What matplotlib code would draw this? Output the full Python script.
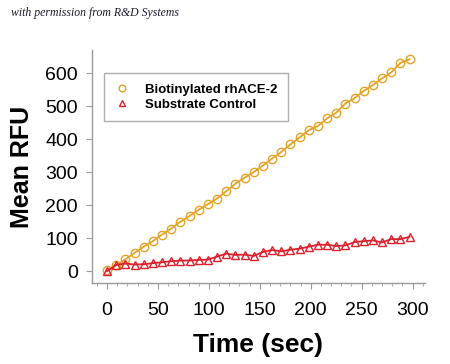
import matplotlib.pyplot as plt
from matplotlib.ticker import MultipleLocator

# Time points (sec) and mean RFU
time = [0, 9, 18, 27, 36, 45, 54, 63, 72, 81, 90, 99, 108, 117, 126, 135, 144,
        153, 162, 171, 180, 189, 198, 207, 216, 225, 234, 243, 252, 261, 270,
        279, 288, 297]
biotin_rfu = [3, 18, 36, 55, 74, 91, 111, 129, 150, 167, 186, 203, 220, 242,
              265, 283, 300, 320, 341, 361, 384, 405, 427, 440, 463, 480, 508,
              524, 546, 564, 584, 602, 631, 642]
control_rfu = [0, 19, 23, 20, 21, 24, 27, 30, 32, 32, 34, 35, 44, 53, 49, 50,
               46, 58, 64, 60, 65, 68, 74, 80, 80, 76, 78, 88, 91, 93, 87, 97,
               97, 104]

x_ticks = [0, 50, 100, 150, 200, 250, 300]
y_ticks = [0, 100, 200, 300, 400, 500, 600]

orange = '#E3A326'
red = '#DC1F2A'
grey = '#9A9A9A'

plt.rcParams['font.family'] = ['Liberation Sans', 'DejaVu Sans']

fig = plt.figure(figsize=(4.5, 3.64), dpi=100)
ax = fig.add_axes([0.204, 0.2225, 0.74, 0.64])

ax.plot(time, biotin_rfu, color=orange, lw=1.3, marker='o', ms=6,
        mfc='none', mec=orange, mew=1.0, label='Biotinylated rhACE-2')
ax.plot(time, control_rfu, color=red, lw=1.3, marker='^', ms=6,
        mfc='none', mec=red, mew=1.0, label='Substrate Control')

ax.set_xlim(-15, 312)
ax.set_ylim(-36, 670)
ax.set_xticks(x_ticks)
ax.set_yticks(y_ticks)
ax.xaxis.set_minor_locator(MultipleLocator(10))

for s in ['top', 'right']:
    ax.spines[s].set_visible(False)
for s in ['left', 'bottom']:
    ax.spines[s].set_color(grey)
    ax.spines[s].set_linewidth(1.0)

ax.tick_params(axis='both', which='major', direction='out', length=4,
               color=grey, labelsize=14)
ax.tick_params(axis='x', which='major', pad=10)
ax.tick_params(axis='y', which='major', pad=6)
ax.tick_params(axis='x', which='minor', direction='out', length=2.5, color=grey)

ax.set_xlabel('Time (sec)', fontsize=19, fontweight='bold', labelpad=10)
ax.set_ylabel('Mean RFU', fontsize=18, fontweight='bold', labelpad=8)

leg = ax.legend(loc='upper left', bbox_to_anchor=(0.018, 0.93), frameon=True,
                fancybox=False, handlelength=1.0, markerscale=0.8,
                prop={'weight': 'bold', 'size': 9.5}, borderpad=0.8,
                labelspacing=0.2, handletextpad=1.3)
leg.get_frame().set_edgecolor(grey)
leg.get_frame().set_linewidth(1.0)
for h in leg.legend_handles:
    h.set_linestyle('none')

fig.text(0.025, 0.955, 'with permission from R&D Systems', fontsize=8.5,
         style='italic', family='Liberation Serif', color='#1a1a2e')

fig.savefig('out.png', dpi=100)
